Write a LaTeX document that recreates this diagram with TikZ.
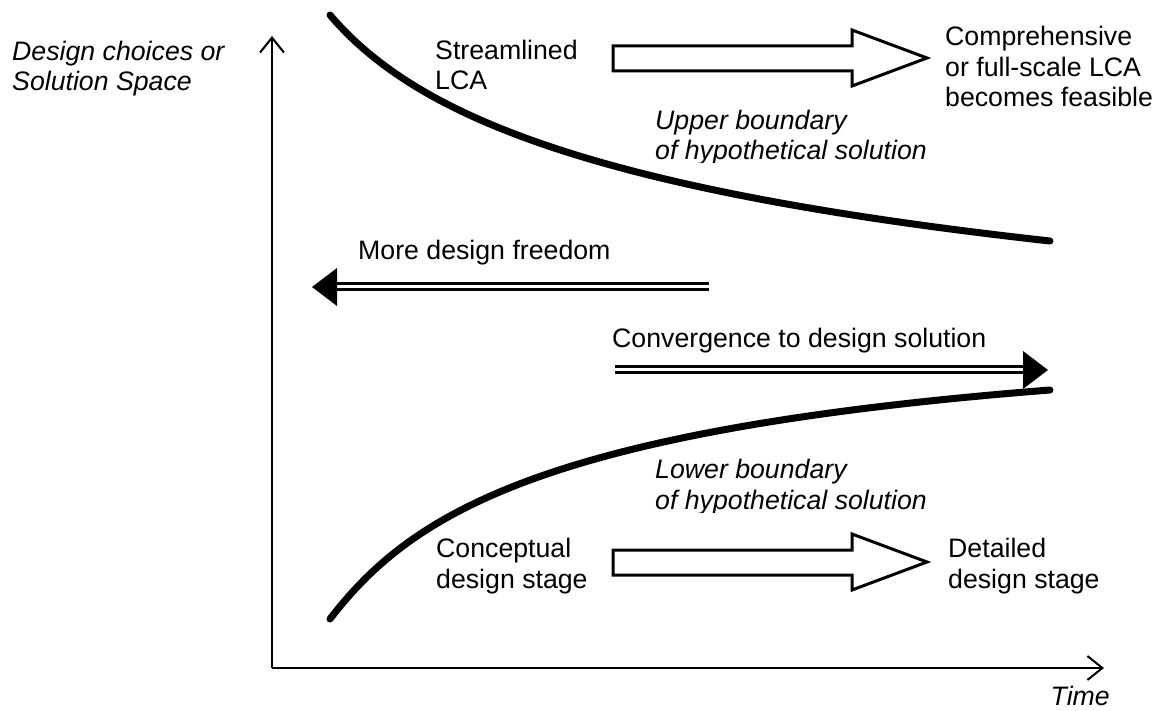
\documentclass[tikz,border=0pt]{standalone}
\usepackage{fontspec}
\setmainfont{Liberation Sans}
\usetikzlibrary{arrows.meta}
\begin{document}
\begin{tikzpicture}[x=1pt,y=-1pt,
  lbl/.style={anchor=base west,inner sep=0pt,align=left,font=\fontsize{26.7}{30.7}\selectfont},
  ilbl/.style={lbl,font=\fontsize{26.7}{30.7}\selectfont\itshape},
  axis/.style={line width=2pt,-{Straight Barb[length=15pt,width=24pt,line width=2pt]}},
  bound/.style={line width=7pt,line cap=round},
  blockarrow/.style={draw,line width=3pt,fill=white,line join=miter},
  twinline/.style={double distance=3pt,line width=3pt}]
\useasboundingbox (0,0) rectangle (1160,711);

% axes
\coordinate (O) at (272,668);
\coordinate (ytop) at (272,36);
\coordinate (xend) at (1104,668);
\draw[axis] (O) -- (ytop);
\draw[axis] (O) -- (xend);
\node[ilbl] (ylab) at (12,91) {Design choices or\\Solution Space};
\node[ilbl,anchor=base east] (xlab) at (1110,705) {Time};

% boundaries of the solution space
\coordinate (u0) at (330,15);
\coordinate (u1) at (1050,241);
\coordinate (l0) at (330,619);
\coordinate (l1) at (1050,390);
\draw[bound] (u0) .. controls (415,115) and (590,190) .. (u1);
\draw[bound] (l0) .. controls (410,515) and (540,430) .. (l1);
% the descenders of each boundary label are trimmed
\begin{scope}
  \clip (640,100) rectangle (1000,163);
  \node[ilbl] (ub) at (655,160) {Upper boundary\\of hypothetical solution};
\end{scope}
\begin{scope}
  \clip (640,450) rectangle (1000,512);
  \node[ilbl] (lb) at (655,509) {Lower boundary\\of hypothetical solution};
\end{scope}

% assessment and design stages
\node[lbl] (slca) at (435,90) {Streamlined\\LCA};
\node[lbl] (flca) at (945,107) {Comprehensive\\or full-scale LCA\\becomes feasible};
\node[lbl] (cds) at (436,588) {Conceptual\\design stage};
\node[lbl] (dds) at (948,588) {Detailed\\design stage};
\draw[blockarrow] (613,46) -- (852,46) -- (852,30) -- (927,58) -- (852,86) -- (852,71) -- (613,71) -- cycle;
\draw[blockarrow] (613,550) -- (852,550) -- (852,534) -- (927,562) -- (852,590) -- (852,575) -- (613,575) -- cycle;

% freedom and convergence
\node[lbl] (mdf) at (358,260) {More design freedom};
\node[lbl] (conv) at (612,348) {Convergence to design solution};
\coordinate (f0) at (709,287);
\coordinate (f1) at (337,287);
\draw[twinline] (f0) -- (f1);
\fill (f1 |- 0,268) -- (312,287) -- (f1 |- 0,306) -- cycle;
\coordinate (c0) at (615,370);
\coordinate (c1) at (1023,370);
\draw[twinline] (c0) -- (c1);
\fill (c1 |- 0,351) -- (1048,370) -- (c1 |- 0,389) -- cycle;
\end{tikzpicture}
\end{document}
